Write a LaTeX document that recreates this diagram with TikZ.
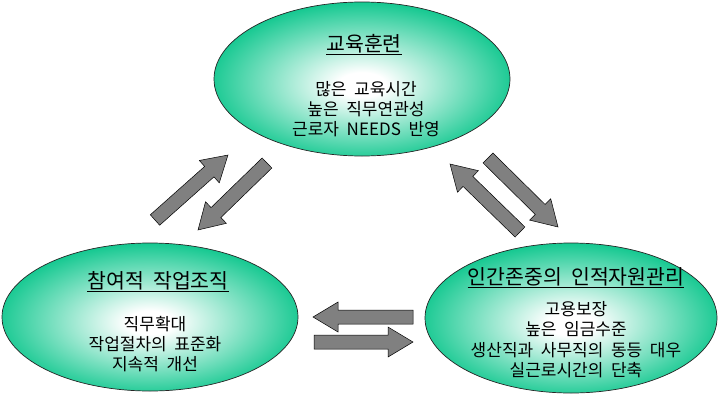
\documentclass[tikz,border=0pt]{standalone}
\usepackage{fontspec}
\setmainfont{Noto Sans CJK KR}[WordSpace=2.0]
\usetikzlibrary{shapes.geometric,calc}
\definecolor{tealc}{RGB}{20,200,144}
\definecolor{arrgray}{RGB}{128,128,128}
\pgfdeclareradialshading{tealglow}{\pgfpoint{0bp}{-2bp}}{color(0bp)=(white); color(4bp)=(white); color(26bp)=(tealc); color(50bp)=(tealc)}
\tikzset{
  ell/.style={ellipse, draw=black!85, line width=0.7pt, shading=tealglow, inner sep=0pt},
  ttl/.style={font=\fontsize{20.5}{24}\selectfont, inner sep=0pt, anchor=base},
  bodyline/.style={font=\fontsize{17}{20}\selectfont, inner sep=0pt, anchor=base},
  blockarr/.style={draw=black, line width=0.5pt, fill=arrgray, line join=miter}
}
\newcommand\blockarrow[2]{%
  \draw[blockarr] let \p1=(#1), \p2=(#2),
    \n1={atan2(\y2-\y1,\x2-\x1)}, \n2={veclen(\x2-\x1,\y2-\y1)} in
    [shift={(\p1)}, rotate=\n1]
    (0,-7) -- ({\n2-25},-7) -- ({\n2-25},-15) -- (\n2,0) -- ({\n2-25},15)
    -- ({\n2-25},7) -- (0,7) -- cycle;}
\begin{document}
\begin{tikzpicture}[x=1pt, y=-1pt]
\useasboundingbox (0,0) rectangle (719,399);
% ellipses
\node[ell, minimum width=296pt, minimum height=154pt] (edu) at (362,79) {};
\node[ell, minimum width=296pt, minimum height=148pt] (org) at (150,317) {};
\node[ell, minimum width=292pt, minimum height=150pt] (hrm) at (571,318) {};
% top texts
\node[ttl] (eduT) at (364,51) {\underline{교육훈련}};
\node[bodyline] (edu1) at (366,95) {많은 교육시간};
\node[bodyline] (edu2) at (366,115) {높은 직무연관성};
\node[bodyline] (edu3) at (366,135) {근로자 NEEDS 반영};
% left texts
\node[ttl] (orgT) at (158,288) {\underline{참여적 작업조직}};
\node[bodyline] (org1) at (155,330) {직무확대};
\node[bodyline] (org2) at (155,350) {작업절차의 표준화};
\node[bodyline] (org3) at (155,370) {지속적 개선};
% right texts
\node[ttl] (hrmT) at (576,284) {\underline{인간존중의 인적자원관리}};
\node[bodyline] (hrm1) at (576,315) {고용보장};
\node[bodyline] (hrm2) at (576,335) {높은 임금수준};
\node[bodyline] (hrm3) at (576,356) {생산직과 사무직의 동등 대우};
\node[bodyline] (hrm4) at (576,376) {실근로시간의 단축};
% arrow end points
\coordinate (a1s) at (155,220); \coordinate (a1e) at (228,155);
\coordinate (a2s) at (267,163); \coordinate (a2e) at (198,230);
\coordinate (a3s) at (520,232); \coordinate (a3e) at (450,164);
\coordinate (a4s) at (488,158); \coordinate (a4e) at (558,227);
\coordinate (a5s) at (413,317); \coordinate (a5e) at (313,317);
\coordinate (a6s) at (314,342); \coordinate (a6e) at (413,342);
\blockarrow{a1s}{a1e}
\blockarrow{a2s}{a2e}
\blockarrow{a3s}{a3e}
\blockarrow{a4s}{a4e}
\blockarrow{a5s}{a5e}
\blockarrow{a6s}{a6e}
\end{tikzpicture}
\end{document}
